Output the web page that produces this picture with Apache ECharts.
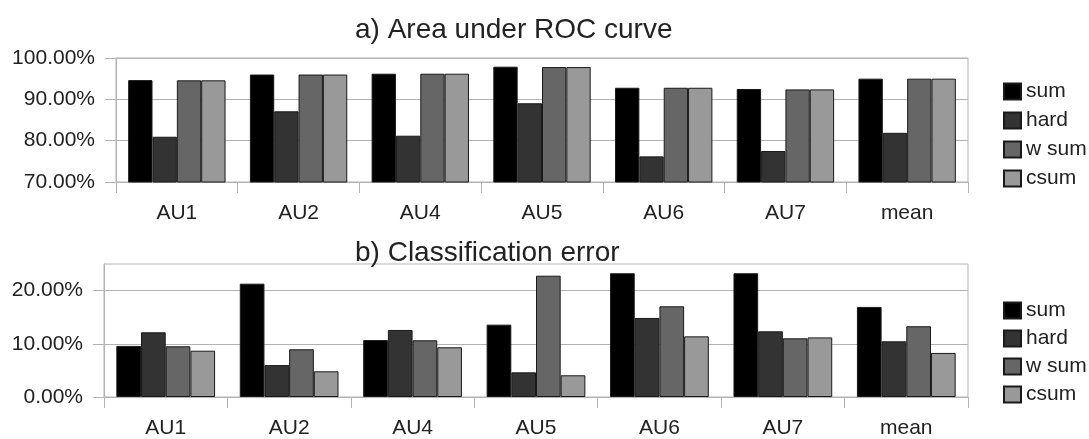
<!DOCTYPE html>
<html>
<head>
<meta charset="utf-8">
<script src="https://cdn.jsdelivr.net/npm/echarts@6/dist/echarts.min.js"></script>
<style>
html,body{margin:0;padding:0;background:#fff;}
#c{width:1089px;height:439px;}
</style>
</head>
<body>
<div id="c"></div>
<script>
// Data
var categories = ['AU1', 'AU2', 'AU4', 'AU5', 'AU6', 'AU7', 'mean'];
var seriesNames = ['sum', 'hard', 'w sum', 'csum'];
var titleA = 'a) Area under ROC curve';
var titleB = 'b) Classification error';
var ticksA = [70, 80, 90, 100];
var ticksB = [0, 10, 20];

// a) Area under ROC curve (%)
var aucSum  = [94.65, 96.0, 96.2, 97.9, 92.8, 92.5, 95.0];
var aucHard = [80.95, 87.1, 81.2, 89.05, 76.2, 77.5, 81.9];
var aucWsum = [94.6, 96.0, 96.2, 97.8, 92.8, 92.4, 95.0];
var aucCsum = [94.6, 96.0, 96.2, 97.8, 92.8, 92.4, 95.0];

// b) Classification error (%)
var errSum  = [9.6, 21.3, 10.7, 13.6, 23.26, 23.26, 16.93];
var errHard = [12.16, 6.0, 12.6, 4.64, 14.86, 12.35, 10.47];
var errWsum = [9.53, 8.97, 10.66, 22.8, 17.05, 11.03, 13.3];
var errCsum = [8.7, 4.83, 9.34, 4.08, 11.4, 11.2, 8.28];

var colors = ['#000000', '#333333', '#666666', '#999999'];
var FONT = '"Liberation Sans", Arial, sans-serif';
var TXT = '#222222';
var GRID = '#b3b3b3';

var chart = echarts.init(document.getElementById('c'), null, {renderer: 'canvas'});

function mkSeries(name, data, idx, color) {
  return {
    name: name, type: 'bar', data: data,
    xAxisIndex: idx, yAxisIndex: idx,
    barGap: '0%', barCategoryGap: '20%',
    itemStyle: {color: color, borderColor: '#1a1a1a', borderWidth: 1},
    emphasis: {disabled: true},
    animation: false
  };
}

function xAx(idx) {
  return {
    type: 'category', gridIndex: idx, data: categories,
    axisLine: {show: true, lineStyle: {color: GRID, width: 1}},
    axisTick: {show: true, length: 11, inside: false, lineStyle: {color: GRID}},
    axisLabel: {color: TXT, fontFamily: FONT, fontSize: 21, margin: 21}
  };
}

function yAx(idx, min, max, interval, pad, ticks) {
  return {
    type: 'value', gridIndex: idx, min: min, max: max, interval: interval,
    axisLine: {show: true, lineStyle: {color: GRID, width: 1}},
    axisTick: {show: true, length: 11, lineStyle: {color: GRID}, customValues: ticks},
    splitLine: {show: true, lineStyle: {color: GRID, width: 1}},
    axisLabel: {
      color: TXT, fontFamily: FONT, fontSize: 21, margin: 21,
      padding: pad, customValues: ticks, showMaxLabel: true, showMinLabel: true,
      formatter: function (v) { return Number(v).toFixed(2) + '%'; }
    }
  };
}

var option = {
  backgroundColor: '#ffffff',
  animation: false,
  title: [
    {text: titleA, left: 355, top: 16, padding: 0,
     textStyle: {fontFamily: FONT, fontSize: 28, fontWeight: 'normal', color: TXT}},
    {text: titleB, left: 355, top: 239, padding: 0,
     textStyle: {fontFamily: FONT, fontSize: 28, fontWeight: 'normal', color: TXT}}
  ],
  legend: [
    {data: seriesNames, orient: 'vertical', left: 1003, top: 81, padding: 0,
     itemWidth: 17, itemHeight: 16, itemGap: 8, icon: 'rect',
     textStyle: {fontFamily: FONT, fontSize: 21, color: TXT, lineHeight: 21},
     selectedMode: false},
    {data: seriesNames, orient: 'vertical', left: 1003, top: 300, padding: 0,
     itemWidth: 17, itemHeight: 16, itemGap: 7, icon: 'rect',
     textStyle: {fontFamily: FONT, fontSize: 21, color: TXT, lineHeight: 21},
     selectedMode: false}
  ],
  grid: [
    {left: 116, right: 121, top: 58, height: 124, show: true, borderColor: GRID, borderWidth: 1},
    {left: 104, right: 121, top: 264, height: 134, show: true, borderColor: GRID, borderWidth: 1}
  ],
  xAxis: [xAx(0), xAx(1)],
  yAxis: [yAx(0, 70, 100, 10, [8, 0, 0, 0], ticksA), yAx(1, 0, 25, 10, [4, 0, 0, 0], ticksB)],
  series: [
    mkSeries(seriesNames[0], aucSum, 0, colors[0]),
    mkSeries(seriesNames[1], aucHard, 0, colors[1]),
    mkSeries(seriesNames[2], aucWsum, 0, colors[2]),
    mkSeries(seriesNames[3], aucCsum, 0, colors[3]),
    mkSeries(seriesNames[0], errSum, 1, colors[0]),
    mkSeries(seriesNames[1], errHard, 1, colors[1]),
    mkSeries(seriesNames[2], errWsum, 1, colors[2]),
    mkSeries(seriesNames[3], errCsum, 1, colors[3])
  ]
};
chart.setOption(option);
</script>
</body>
</html>
